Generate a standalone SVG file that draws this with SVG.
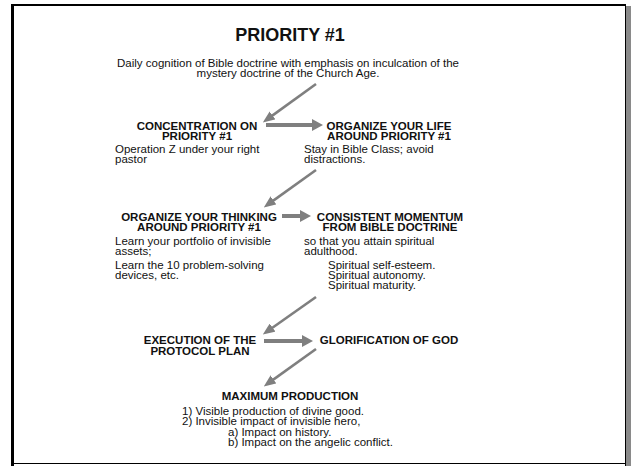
<svg xmlns="http://www.w3.org/2000/svg" width="635" height="466" viewBox="0 0 635 466">
<style>
text{font-family:"Liberation Sans",Arial,Helvetica,sans-serif;fill:#111;}
.t{font-size:18px;font-weight:bold;text-anchor:middle;}
.h{font-size:11.5px;font-weight:bold;text-anchor:middle;}
.b{font-size:11.5px;}
.c{font-size:11.5px;text-anchor:middle;}
.ah{stroke:#7f7f7f;stroke-width:4;fill:none;}
.ad{stroke:#7f7f7f;stroke-width:2.6;fill:none;}
</style>
<defs>
<marker id="mh" markerUnits="userSpaceOnUse" viewBox="0 0 11 12" markerWidth="11" markerHeight="12" refX="2" refY="6" orient="auto">
<path d="M0,0 L11,6 L0,12 z" fill="#7f7f7f"/>
</marker>
<marker id="md" markerUnits="userSpaceOnUse" viewBox="0 0 12 10" markerWidth="12" markerHeight="10" refX="2" refY="5" orient="auto">
<path d="M0,0 L12,5 L0,10 z" fill="#7f7f7f"/>
</marker>
</defs>
<rect x="0" y="0" width="635" height="466" fill="#fff"/>
<g id="frame">
<rect x="626" y="6" width="5" height="460" fill="#8a8a8a"/>
<line x1="11" y1="5" x2="626" y2="5" stroke="#000" stroke-width="2"/>
<line x1="12.5" y1="4" x2="12.5" y2="466" stroke="#000" stroke-width="3"/>
<line x1="625.5" y1="4" x2="625.5" y2="466" stroke="#000" stroke-width="1"/>
<line x1="11" y1="463.5" x2="626" y2="463.5" stroke="#000" stroke-width="1"/>
</g>
<g id="title">
<text class="t" x="290" y="41">PRIORITY #1</text>
<text class="c" x="288" y="67">Daily cognition of Bible doctrine with emphasis on inculcation of the</text>
<text class="c" x="288" y="77">mystery doctrine of the Church Age.</text>
</g>
<g id="connectors">
<line class="ad" x1="316" y1="84" x2="270.9" y2="116.6" marker-end="url(#md)"/>
<line class="ah" x1="266" y1="125" x2="314" y2="125" marker-end="url(#mh)"/>
<line class="ad" x1="316" y1="170" x2="271.9" y2="201.6" marker-end="url(#md)"/>
<line class="ah" x1="282" y1="216" x2="302" y2="216" marker-end="url(#mh)"/>
<line class="ad" x1="316" y1="297" x2="271.0" y2="328.7" marker-end="url(#md)"/>
<line class="ah" x1="264" y1="341" x2="304" y2="341" marker-end="url(#mh)"/>
<line class="ad" x1="316" y1="349" x2="271.9" y2="380.6" marker-end="url(#md)"/>
</g>
<g id="concentration">
<text class="h" x="197" y="130">CONCENTRATION ON</text>
<text class="h" x="197" y="140">PRIORITY #1</text>
<text class="b" x="115" y="153">Operation Z under your right</text>
<text class="b" x="115" y="163">pastor</text>
</g>
<g id="organize-life">
<text class="h" x="389" y="130">ORGANIZE YOUR LIFE</text>
<text class="h" x="389" y="140">AROUND PRIORITY #1</text>
<text class="b" x="304" y="153">Stay in Bible Class; avoid</text>
<text class="b" x="304" y="163">distractions.</text>
</g>
<g id="organize-thinking">
<text class="h" x="199" y="221">ORGANIZE YOUR THINKING</text>
<text class="h" x="199" y="231">AROUND PRIORITY #1</text>
<text class="b" x="115" y="245">Learn your portfolio of invisible</text>
<text class="b" x="115" y="255">assets;</text>
<text class="b" x="115" y="269">Learn the 10 problem-solving</text>
<text class="b" x="115" y="279">devices, etc.</text>
</g>
<g id="momentum">
<text class="h" x="390" y="221">CONSISTENT MOMENTUM</text>
<text class="h" x="390" y="231">FROM BIBLE DOCTRINE</text>
<text class="b" x="304" y="245">so that you attain spiritual</text>
<text class="b" x="304" y="255">adulthood.</text>
<text class="b" x="328" y="269">Spiritual self-esteem.</text>
<text class="b" x="328" y="279">Spiritual autonomy.</text>
<text class="b" x="328" y="289">Spiritual maturity.</text>
</g>
<g id="execution">
<text class="h" x="200" y="344">EXECUTION OF THE</text>
<text class="h" x="200" y="355">PROTOCOL PLAN</text>
</g>
<g id="glorification">
<text class="h" x="389" y="344">GLORIFICATION OF GOD</text>
</g>
<g id="production">
<text class="h" x="290" y="400">MAXIMUM PRODUCTION</text>
<text class="b" x="182" y="415">1) Visible production of divine good.</text>
<text class="b" x="182" y="425">2) Invisible impact of invisible hero,</text>
<text class="b" x="228" y="436">a) Impact on history.</text>
<text class="b" x="228" y="446">b) Impact on the angelic conflict.</text>
</g>
</svg>
